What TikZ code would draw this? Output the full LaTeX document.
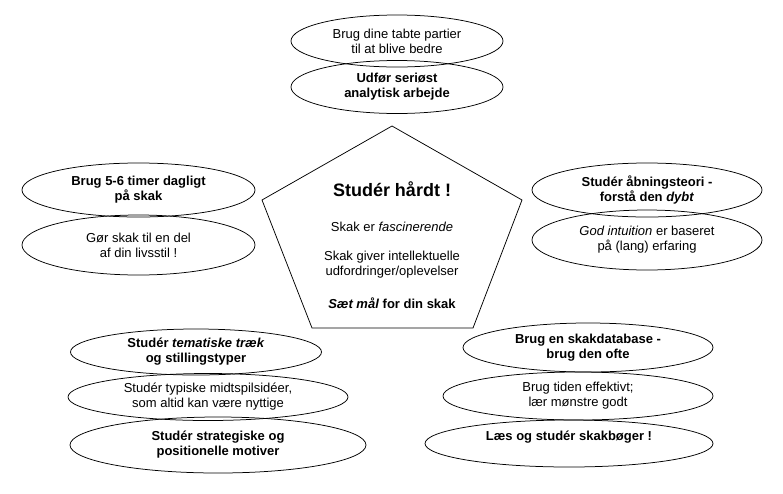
\documentclass[tikz,border=0pt]{standalone}
\usepackage{fontspec}
\setmainfont{Liberation Sans}
\usetikzlibrary{shapes.geometric}
\begin{document}
\begin{tikzpicture}[x=1pt,y=-1pt,font=\fontsize{13}{15}\selectfont,
  oval/.style={draw,ellipse,inner sep=0pt,align=center,line width=.75pt},
  hard/.style={font=\fontsize{13}{15}\selectfont\bfseries}]
  \useasboundingbox[fill=white] (0,0) rectangle (783,493);
  \node[oval,minimum width=212,minimum height=52] (tabte) at (397,41)
    {Brug dine tabte partier\\til at blive bedre};
  \node[oval,hard,minimum width=212,minimum height=53] (analyse) at (397,87)
    {Udfør seriøst\\analytisk arbejde};
  \node[oval,hard,minimum width=233,minimum height=54] (timer) at (138.5,190)
    {Brug 5-6 timer dagligt\\på skak};
  \node[oval,minimum width=233,minimum height=60] (livsstil) at (138.5,245)
    {Gør skak til en del\\af din livsstil !};
  \node[oval,hard,minimum width=230,minimum height=54] (aabning) at (647,190)
    {Studér åbningsteori -\\forstå den \textit{dybt}};
  \node[oval,minimum width=230,minimum height=60] (intuition) at (647,240)
    {\textit{God intuition} er baseret\\på (lang) erfaring};
  \node[oval,hard,minimum width=251,minimum height=46] (tema) at (196,352)
    {Studér \textit{tematiske træk}\\og stillingstyper};
  \node[oval,minimum width=280,minimum height=47] (midtspil) at (208,397)
    {Studér typiske midtspilsidéer,\\som altid kan være nyttige};
  \node[oval,hard,minimum width=296,minimum height=56] (motiver) at (218,445)
    {Studér strategiske og\\positionelle motiver};
  \node[oval,hard,minimum width=250,minimum height=49] (database) at (588,347.5)
    {Brug en skakdatabase -\\brug den ofte};
  \node[oval,minimum width=270,minimum height=48] (tiden) at (578,396)
    {Brug tiden effektivt;\\lær mønstre godt};
  \node[oval,hard,minimum width=288,minimum height=47] (boeger) at (569,443.5)
    {Læs og studér skakbøger !\\\mbox{}};
  \coordinate (T) at (392,126);
  \coordinate (R) at (522,200);
  \coordinate (BR) at (473,328);
  \coordinate (BL) at (312,328);
  \coordinate (L) at (262,200);
  \draw[line width=.75pt] (T)--(R)--(BR)--(BL)--(L)--cycle;
  \node[font=\fontsize{18}{21}\selectfont\bfseries] (studer) at (392,189)
    {Studér hårdt !};
  \node (fascin) at (392,227) {Skak er \textit{fascinerende}};
  \node[align=center] (udfordr) at (392,265)
    {Skak giver intellektuelle\\udfordringer/oplevelser};
  \node[hard] (maal) at (392,303) {\textit{Sæt mål} for din skak};
\end{tikzpicture}
\end{document}
